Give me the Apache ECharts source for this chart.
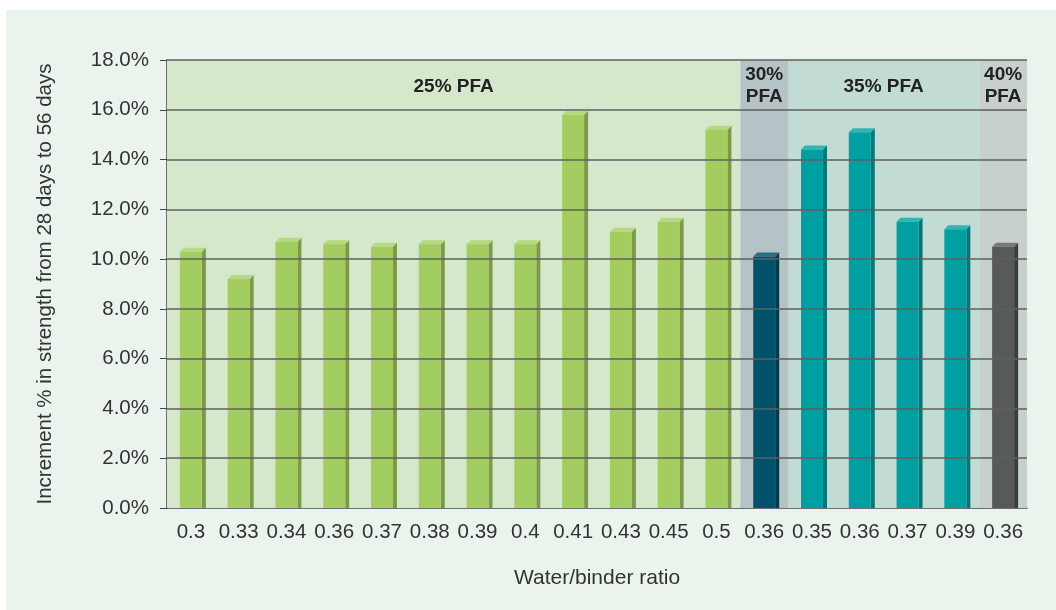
<!DOCTYPE html>
<html>
<head>
<meta charset="utf-8">
<script src="https://cdn.jsdelivr.net/npm/echarts@6/dist/echarts.min.js"></script>
<style>
  html, body { margin: 0; padding: 0; background: #ffffff; }
  #main { position: absolute; left: 6px; top: 10px; width: 1050px; height: 600px; background: #eaf3ec; }
</style>
</head>
<body>
<div id="main"></div>
<script>
// water/binder ratios on the x axis
var ratios = ['0.3', '0.33', '0.34', '0.36', '0.37', '0.38', '0.39', '0.4', '0.41', '0.43', '0.45', '0.5',
              '0.36', '0.35', '0.36', '0.37', '0.39', '0.36'];
// increment % in strength from 28 to 56 days
var increments = [10.3, 9.2, 10.7, 10.6, 10.5, 10.6, 10.6, 10.6, 15.8, 11.1, 11.5, 15.2,
                  10.1, 14.4, 15.1, 11.5, 11.2, 10.5];
// PFA group of each bar
var pfaGroup = [25, 25, 25, 25, 25, 25, 25, 25, 25, 25, 25, 25, 30, 35, 35, 35, 35, 40];
// band labels and their spans (category index from / to)
var bandLabels = ['25% PFA', '30%\nPFA', '35% PFA', '40%\nPFA'];
var bandStart = [0, 12, 13, 17];
var bandEnd = [12, 13, 17, 18];
var yTicks = [0, 2, 4, 6, 8, 10, 12, 14, 16, 18];

var barColors = {
    25: { front: '#a3cd61', side: '#7b9a4a', top: '#b8d981' },
    30: { front: '#00526b', side: '#003a4d', top: '#2b6f84' },
    35: { front: '#00a0a2', side: '#007876', top: '#33b3b4' },
    40: { front: '#58595b', side: '#3b3c3e', top: '#77787a' }
};
var bandColors = ['#d6e8cc', '#b5c3c7', '#c3dbd5', '#c8d0cb'];

var myChart = echarts.init(document.getElementById('main'));

var barData = increments.map(function (v, i) { return [i, v, pfaGroup[i]]; });

var bandAreas = bandLabels.map(function (t, i) {
    var single = t.indexOf('\n') < 0;
    return [{
        xAxis: bandStart[i],
        name: t,
        itemStyle: { color: bandColors[i] },
        label: { distance: single ? 16 : 4 }
    }, { xAxis: bandEnd[i] }];
});

// gridlines drawn over the coloured bands but under the bars
var gridLines = yTicks.slice(1).map(function (v) { return { yAxis: v }; });

function renderBar(params, api) {
    var idx = api.value(0);
    var val = api.value(1);
    var c = barColors[api.value(2)];
    var top = api.coord([idx, val]);
    var base = api.coord([idx, 0]);
    var bw = api.size([1, 0])[0] * 0.46;
    var d = 4;
    var x0 = top[0] - bw / 2;
    var x1 = top[0] + bw / 2;
    return {
        type: 'group',
        children: [
            { type: 'polygon', shape: { points: [[x1, top[1]], [x1 + d, top[1] - d], [x1 + d, base[1]], [x1, base[1]]] }, style: { fill: c.side } },
            { type: 'polygon', shape: { points: [[x0, top[1]], [x0 + d, top[1] - d], [x1 + d, top[1] - d], [x1, top[1]]] }, style: { fill: c.top } },
            { type: 'rect', shape: { x: x0, y: top[1], width: bw, height: base[1] - top[1] }, style: { fill: c.front } }
        ]
    };
}

var option = {
    animation: false,
    textStyle: { fontFamily: 'Liberation Sans, Arial, sans-serif' },
    grid: { left: 161, right: 29, top: 50, bottom: 102 },
    xAxis: [{
        type: 'category',
        data: ratios,
        name: 'Water/binder ratio',
        nameLocation: 'middle',
        nameGap: 60,
        nameTextStyle: { fontSize: 21, color: '#333' },
        axisLine: { lineStyle: { color: '#444', width: 1.5 } },
        axisTick: { length: 6, lineStyle: { color: '#444' } },
        axisLabel: { interval: 0, fontSize: 20.5, color: '#333', margin: 14 },
        splitLine: { show: false }
    }, {
        type: 'value',
        min: 0,
        max: 18,
        show: false
    }],
    yAxis: {
        type: 'value',
        min: 0,
        max: 18,
        interval: 2,
        name: 'Increment % in strength from 28 days to 56 days',
        nameLocation: 'middle',
        nameGap: 111,
        nameTextStyle: { fontSize: 20.5, color: '#333' },
        axisLine: { show: true, lineStyle: { color: '#444', width: 1.5 } },
        axisTick: { show: true, length: 7, lineStyle: { color: '#444' } },
        axisLabel: { fontSize: 20.5, color: '#333', margin: 18, formatter: function (v) { return v.toFixed(1) + '%'; } },
        splitLine: { show: false }
    },
    series: [{
        type: 'line',
        xAxisIndex: 1,
        z: 0,
        data: [],
        silent: true,
        markArea: {
            silent: true,
            label: { position: 'insideTop', fontSize: 19, fontWeight: 'bold', color: '#222', lineHeight: 22 },
            data: bandAreas
        }
    }, {
        type: 'line',
        xAxisIndex: 1,
        z: 1,
        data: [],
        silent: true,
        markLine: {
            silent: true,
            symbol: 'none',
            label: { show: false },
            lineStyle: { color: '#5f5f5f', width: 1.5, type: 'solid' },
            data: gridLines
        }
    }, {
        type: 'custom',
        xAxisIndex: 0,
        z: 3,
        renderItem: renderBar,
        encode: { x: 0, y: 1 },
        data: barData
    }]
};

myChart.setOption(option);
</script>
</body>
</html>
